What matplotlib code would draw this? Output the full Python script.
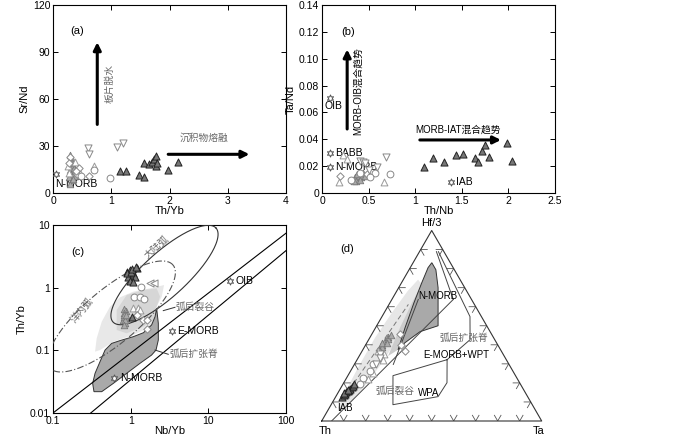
import numpy as np
import matplotlib
matplotlib.use('Agg')
import matplotlib.pyplot as plt

plt.rcParams['font.family'] = ['Liberation Sans', 'Noto Sans CJK SC']
plt.rcParams['font.size'] = 7.5

# ---------------- data: panel (a) Th/Yb vs Sr/Nd ----------------
a_dark_x = [1.15, 1.25, 1.47, 1.57, 1.57, 1.65, 1.70, 1.73, 1.77, 1.77, 1.78, 1.97, 2.15]
a_dark_y = [14, 14, 11.5, 10, 19, 18.5, 20, 22, 23.5, 17, 19, 15, 20]
a_gray_x = [0.30, 0.32, 0.33, 0.34, 0.30, 0.32, 0.35, 0.28, 0.33, 0.36, 0.38, 0.30, 0.34, 0.31, 0.37]
a_gray_y = [24, 22, 20, 18, 15, 13, 12, 10, 8, 16, 11, 6, 9, 19, 14]
a_inv_x = [0.60, 0.61, 1.10, 1.21]
a_inv_y = [29, 25, 29.5, 32]
a_circ_x = [0.48, 0.71, 0.98]
a_circ_y = [11, 15, 9.3]
a_diam_x = [0.30, 0.27, 0.42, 0.45, 0.61, 0.40]
a_diam_y = [23, 19, 12, 16, 11, 14]
a_tri_x = [0.25, 0.38, 0.28, 0.47, 0.70]
a_tri_y = [17, 20, 13, 13, 17]
a_ref = {'N-MORB': (0.05, 12)}

# ---------------- data: panel (b) Th/Nb vs Ta/Nd ----------------
b_dark_x = [1.09, 1.19, 1.31, 1.44, 1.51, 1.64, 1.67, 1.72, 1.75, 1.79, 1.99, 2.04]
b_dark_y = [0.019, 0.026, 0.023, 0.028, 0.029, 0.026, 0.023, 0.031, 0.036, 0.027, 0.037, 0.024]
b_gray_x = [0.33, 0.35, 0.37, 0.40, 0.42, 0.38, 0.44, 0.36, 0.41, 0.46, 0.34]
b_gray_y = [0.010, 0.012, 0.011, 0.013, 0.012, 0.014, 0.015, 0.009, 0.010, 0.013, 0.009]
b_inv_x = [0.41, 0.44, 0.46, 0.59, 0.69, 0.50]
b_inv_y = [0.024, 0.023, 0.022, 0.019, 0.027, 0.017]
b_circ_x = [0.31, 0.41, 0.57, 0.73, 0.52]
b_circ_y = [0.0097, 0.015, 0.015, 0.014, 0.012]
b_diam_x = [0.19, 0.48]
b_diam_y = [0.013, 0.014]
b_tri_x = [0.18, 0.67, 0.23, 0.27]
b_tri_y = [0.0084, 0.0084, 0.028, 0.025]
b_ref = {'OIB': (0.09, 0.071), 'BABB': (0.086, 0.030),
         'N-MORB': (0.086, 0.019), 'IAB': (1.38, 0.008)}

# ---------------- data: panel (c) Nb/Yb vs Th/Yb ----------------
c_dark_x = [0.89, 0.98, 1.03, 1.08, 1.13, 0.93, 1.19, 0.98, 1.08, 0.90, 1.00, 1.05, 1.17, 1.03]
c_dark_y = [1.80, 1.91, 1.59, 1.69, 1.50, 1.50, 2.03, 1.29, 1.25, 1.69, 1.80, 2.00, 2.15, 0.34]
c_gray_x = [0.80, 0.82, 0.84, 0.86, 0.83, 0.85, 0.81, 0.87, 0.84, 0.82, 0.86, 0.83]
c_gray_y = [0.30, 0.34, 0.38, 0.42, 0.45, 0.27, 0.40, 0.33, 0.31, 0.36, 0.37, 0.25]
c_inv_x = [1.77, 1.99]
c_inv_y = [1.20, 1.20]
c_circ_x = [1.36, 1.10, 1.30, 1.50]
c_circ_y = [1.01, 0.70, 0.72, 0.66]
c_diam_x = [1.19, 1.61, 1.44, 1.61]
c_diam_y = [0.366, 0.22, 0.30, 0.305]
c_tri_x = [1.08, 1.25, 1.32]
c_tri_y = [0.47, 0.47, 0.44]
c_ref = {'OIB': (19, 1.28), 'E-MORB': (3.37, 0.206), 'N-MORB': (0.617, 0.0357)}

# mantle array boundaries (end points)
c_line1 = ([0.1, 100], [0.01, 7.4])
c_line2 = ([0.306, 100], [0.01, 3.9])
# ellipses in log10 space: centre, half-axis vectors
arc_cont = ((0.4355, 0.202), (0.663, 0.750), (-0.191, 0.259))
arc_ocean = ((-0.247, -0.460), (0.792, 0.822), (-0.223, 0.330))
# back-arc rift (light) and spreading ridge (dark) fields
rift_x = [0.348, 0.365, 0.424, 0.542, 0.730, 1.08, 1.77, 2.69, 2.51, 2.16, 2.06, 1.86, 1.08, 0.598, 0.403]
rift_y = [0.0953, 0.155, 0.286, 0.498, 0.701, 0.863, 0.975, 1.10, 0.718, 0.498, 0.344, 0.239, 0.176, 0.137, 0.101]
rift2_x = [0.661, 0.889, 1.46, 2.16, 2.39, 2.16, 1.96, 1.46, 0.889, 0.661]
rift2_y = [0.441, 0.764, 0.918, 0.975, 0.718, 0.498, 0.305, 0.239, 0.187, 0.211]
ridge_x = [0.337, 0.324, 0.348, 0.403, 0.468, 0.569, 0.730, 1.08, 1.46, 1.86, 2.06, 2.16,
           2.27, 2.27, 2.12, 1.86, 1.32, 0.889, 0.598, 0.424]
ridge_y = [0.0219, 0.0297, 0.0430, 0.0659, 0.101, 0.129, 0.143, 0.165, 0.191, 0.254, 0.344, 0.468,
           0.270, 0.146, 0.101, 0.0841, 0.0621, 0.0430, 0.0297, 0.0219]

# ---------------- data: panel (d) Th - Hf/3 - Ta (Hf/3, Ta fractions) ----------------
d_dark_hf = [0.125, 0.135, 0.140, 0.150, 0.155, 0.162, 0.170, 0.178, 0.185, 0.192, 0.145, 0.165]
d_dark_ta = [0.030, 0.032, 0.035, 0.037, 0.040, 0.042, 0.045, 0.047, 0.050, 0.053, 0.030, 0.038]
d_gray_hf = [0.38, 0.40, 0.42, 0.44, 0.39, 0.41, 0.43, 0.37, 0.45, 0.41]
d_gray_ta = [0.072, 0.075, 0.078, 0.082, 0.080, 0.070, 0.085, 0.078, 0.088, 0.090]
d_inv_hf = [0.35, 0.33, 0.30]
d_inv_ta = [0.09, 0.10, 0.095]
d_circ_hf = [0.227, 0.262, 0.192, 0.297]
d_circ_ta = [0.076, 0.088, 0.078, 0.086]
d_diam_hf = [0.455, 0.367, 0.40]
d_diam_ta = [0.128, 0.195, 0.16]
d_tri_hf = [0.367, 0.35, 0.32, 0.25, 0.22]
d_tri_ta = [0.073, 0.11, 0.12, 0.11, 0.10]

d_lines = [
    ([0.0, 0.638], [0.045, 0.279]),
    ([0.638, 0.889], [0.279, 0.077]),
    ([0.889, 0.548, 0.427, 0.322], [0.086, 0.400, 0.461, 0.409]),
    ([0.322, 0.238, 0.0856, 0.128, 0.201, 0.322], [0.409, 0.205, 0.281, 0.465, 0.469, 0.409]),
    ([0.638, 0.297], [0.120, 0.177]),
]
d_dash = ([0.131, 0.612], [0.040, 0.088])
d_light_hf = [0.070, 0.149, 0.280, 0.437, 0.569, 0.684, 0.742, 0.717, 0.648, 0.542, 0.411, 0.290, 0.185, 0.096, 0.049]
d_light_ta = [0.039, 0.031, 0.025, 0.024, 0.035, 0.050, 0.067, 0.097, 0.109, 0.121, 0.128, 0.120, 0.104, 0.081, 0.059]
d_mid_hf = [0.341, 0.490, 0.621, 0.700, 0.411, 0.374]
d_mid_ta = [0.131, 0.111, 0.100, 0.097, 0.173, 0.160]
d_ridge_hf = [0.831, 0.794, 0.700, 0.500, 0.469, 0.411, 0.374, 0.490, 0.621, 0.726, 0.805]
d_ridge_ta = [0.085, 0.122, 0.179, 0.279, 0.2125, 0.173, 0.160, 0.134, 0.109, 0.092, 0.081]
d_labels = [('N-MORB', 0.658, 0.109, 'k'), ('弧后扩张脊', 0.437, 0.319, '#666666'),
            ('E-MORB+WPT', 0.349, 0.286, 'k'), ('弧后裂谷', 0.159, 0.163, '#666666'),
            ('WPA', 0.149, 0.363, 'k'), ('IAB', 0.070, 0.035, 'k')]

# ---------------- styles ----------------
sty_dark = dict(marker='^', s=26, facecolor='#777777', edgecolor='#222222', lw=0.7, zorder=5)
sty_gray = dict(marker='^', s=22, facecolor='#aaaaaa', edgecolor='#777777', lw=0.6, zorder=4)
sty_inv = dict(marker='v', s=26, facecolor='white', edgecolor='#888888', lw=0.7, zorder=4)
sty_circ = dict(marker='o', s=24, facecolor='white', edgecolor='#888888', lw=0.7, zorder=4)
sty_diam = dict(marker='D', s=14, facecolor='white', edgecolor='#888888', lw=0.7, zorder=4)
sty_tri = dict(marker='^', s=24, facecolor='white', edgecolor='#999999', lw=0.7, zorder=4)
sty_star = dict(marker=(6, 1, 0), s=26, facecolor='white', edgecolor='#555555', lw=0.7, zorder=6)
cn_color = '#666666'


def style_axes(ax):
    ax.tick_params(direction='in', top=True, right=True, length=3.5, width=0.7,
                   labelsize=7.5, pad=2)
    for sp in ax.spines.values():
        sp.set_linewidth(0.8)


def ellipse(params):
    (cx, cy), (ux, uy), (vx, vy) = params
    t = np.linspace(0, 2 * np.pi, 200)
    lx = cx + ux * np.cos(t) + vx * np.sin(t)
    ly = cy + uy * np.cos(t) + vy * np.sin(t)
    return 10 ** lx, 10 ** ly


def tern(hf, ta):
    hf = np.asarray(hf, dtype=float)
    ta = np.asarray(ta, dtype=float)
    return ta + hf / 2, hf * np.sqrt(3) / 2


fig = plt.figure(figsize=(7, 4.37), dpi=100)

# ---------------- (a) ----------------
ax = fig.add_axes([53 / 700, 1 - 193 / 437, 233 / 700, 188 / 437])
ax.scatter(a_gray_x, a_gray_y, **sty_gray)
ax.scatter(a_tri_x, a_tri_y, **sty_tri)
ax.scatter(a_diam_x, a_diam_y, **sty_diam)
ax.scatter(a_circ_x, a_circ_y, **sty_circ)
ax.scatter(a_inv_x, a_inv_y, **sty_inv)
ax.scatter(a_dark_x, a_dark_y, **sty_dark)
for name, (x, y) in a_ref.items():
    ax.scatter([x], [y], **sty_star)
    ax.text(x - 0.02, y - 6, name, ha='left', va='center', fontsize=7.5)
ax.annotate('', xy=(0.76, 98), xytext=(0.76, 42),
            arrowprops=dict(arrowstyle='-|>', lw=2.2, color='k', mutation_scale=11))
ax.text(0.98, 70, '板片脱水', rotation=90, ha='center', va='center', fontsize=7, color=cn_color)
ax.annotate('', xy=(3.42, 24.7), xytext=(1.93, 24.7),
            arrowprops=dict(arrowstyle='-|>', lw=2.2, color='k', mutation_scale=11))
ax.text(2.6, 35, '沉积物熔融', ha='center', va='center', fontsize=7, color=cn_color)
ax.text(0.41, 103.5, '(a)', ha='center', va='center', fontsize=8)
ax.set_xlim(0, 4)
ax.set_ylim(0, 120)
ax.set_xticks([0, 1, 2, 3, 4])
ax.set_yticks([0, 30, 60, 90, 120])
ax.set_xlabel('Th/Yb', fontsize=8, labelpad=0.5)
ax.set_ylabel('Sr/Nd', fontsize=8, labelpad=2)
style_axes(ax)

# ---------------- (b) ----------------
ax = fig.add_axes([322 / 700, 1 - 193 / 437, 233 / 700, 188 / 437])
ax.scatter(b_gray_x, b_gray_y, **sty_gray)
ax.scatter(b_tri_x, b_tri_y, **sty_tri)
ax.scatter(b_diam_x, b_diam_y, **sty_diam)
ax.scatter(b_circ_x, b_circ_y, **sty_circ)
ax.scatter(b_inv_x, b_inv_y, **sty_inv)
ax.scatter(b_dark_x, b_dark_y, **sty_dark)
for name, (x, y) in b_ref.items():
    ax.scatter([x], [y], **sty_star)
    if name == 'OIB':
        ax.text(x + 0.03, y - 0.0065, name, ha='center', va='center', fontsize=7.5)
    else:
        ax.text(x + 0.06, y, name, ha='left', va='center', fontsize=7.5)
ax.annotate('', xy=(0.27, 0.109), xytext=(0.27, 0.0456),
            arrowprops=dict(arrowstyle='-|>', lw=2.2, color='k', mutation_scale=11))
ax.text(0.39, 0.076, 'MORB-OIB混合趋势', rotation=90, ha='center', va='center', fontsize=7)
ax.annotate('', xy=(1.95, 0.0395), xytext=(1.02, 0.0395),
            arrowprops=dict(arrowstyle='-|>', lw=2.2, color='k', mutation_scale=11))
ax.text(1.0, 0.0475, 'MORB-IAT混合趋势', ha='left', va='center', fontsize=7)
ax.text(0.28, 0.12, '(b)', ha='center', va='center', fontsize=8)
ax.set_xlim(0, 2.5)
ax.set_ylim(0, 0.14)
ax.set_xticks([0, 0.5, 1, 1.5, 2, 2.5])
ax.set_xticklabels(['0', '0.5', '1', '1.5', '2', '2.5'])
ax.set_yticks(np.arange(0, 0.141, 0.02))
ax.set_yticklabels(['0'] + ['%.2f' % v for v in np.arange(0.02, 0.141, 0.02)])
ax.set_xlabel('Th/Nb', fontsize=8, labelpad=0.5)
ax.set_ylabel('Ta/Nd', fontsize=8, labelpad=2)
style_axes(ax)

# ---------------- (c) ----------------
ax = fig.add_axes([53 / 700, 1 - 413 / 437, 233 / 700, 188 / 437])
ax.set_xscale('log')
ax.set_yscale('log')
ax.fill(rift_x, rift_y, color='#e8e8e8', lw=0, zorder=1)
ax.fill(rift2_x, rift2_y, color='#d6d6d6', lw=0, zorder=1)
ax.fill(ridge_x, ridge_y, facecolor='#a9a9a9', edgecolor='#333333', lw=0.7, zorder=2)
ax.plot(*c_line1, color='k', lw=0.8, zorder=3)
ax.plot(*c_line2, color='k', lw=0.8, zorder=3)
ex, ey = ellipse(arc_cont)
ax.plot(ex, ey, color='#333333', lw=0.8, zorder=3)
ex, ey = ellipse(arc_ocean)
ax.plot(ex, ey, color='#555555', lw=0.8, ls=(0, (6, 2, 1, 2)), zorder=3)
ax.scatter(c_gray_x, c_gray_y, **sty_gray)
ax.scatter(c_tri_x, c_tri_y, **sty_tri)
ax.scatter(c_diam_x, c_diam_y, **sty_diam)
ax.scatter(c_circ_x, c_circ_y, **sty_circ)
ax.scatter(c_inv_x, c_inv_y, **dict(sty_inv, marker='<'))
ax.scatter(c_dark_x, c_dark_y, **sty_dark)
for name, (x, y) in c_ref.items():
    ax.scatter([x], [y], **sty_star)
    ax.text(x * 1.18, y, name, ha='left', va='center', fontsize=7.5)
ax.text(2.16, 4.5, '大陆弧', rotation=42, ha='center', va='center', fontsize=7, color=cn_color)
ax.text(0.234, 0.44, '洋内弧', rotation=50, ha='center', va='center', fontsize=7, color=cn_color)
ax.plot([2.63, 3.72], [0.43, 0.486], color='#333333', lw=0.7, zorder=3)
ax.text(3.8, 0.486, '弧后裂谷', ha='left', va='center', fontsize=7, color=cn_color)
ax.plot([2.06, 3.05], [0.101, 0.0865], color='#333333', lw=0.7, zorder=3)
ax.text(3.15, 0.0865, '弧后扩张脊', ha='left', va='center', fontsize=7, color=cn_color)
ax.text(0.21, 3.75, '(c)', ha='center', va='center', fontsize=8)
ax.set_xlim(0.1, 100)
ax.set_ylim(0.01, 10)
ax.set_xticks([0.1, 1, 10, 100])
ax.set_xticklabels(['0.1', '1', '10', '100'])
ax.set_yticks([0.01, 0.1, 1, 10])
ax.set_yticklabels(['0.01', '0.1', '1', '10'])
ax.minorticks_off()
ax.set_xlabel('Nb/Yb', fontsize=8, labelpad=0)
ax.set_ylabel('Th/Yb', fontsize=8, labelpad=2)
style_axes(ax)

# ---------------- (d) ternary ----------------
h = np.sqrt(3) / 2
ax = fig.add_axes([321.7 / 700, (437 - 421) / 437, 220 / 700, 190.5 / 437])
ax.set_xlim(0, 1)
ax.set_ylim(0, h)
ax.axis('off')
ax.plot([0, 1, 0.5, 0], [0, 0, h, 0], color='#333333', lw=0.8, clip_on=False, zorder=3)

tk = 0.03
for i in range(1, 10):
    f = i / 10
    # bottom edge
    ax.plot([f - tk / 2, f, f + tk / 2], [tk * h, 0, tk * h], color='#555555', lw=0.6)
    # left edge
    px, py = f / 2, f * h
    ax.plot([px + tk, px, px + tk / 2], [py, py, py - tk * h], color='#555555', lw=0.6)
    # right edge
    px, py = 1 - f / 2, f * h
    ax.plot([px - tk, px, px - tk / 2], [py, py, py - tk * h], color='#555555', lw=0.6)

x, y = tern(d_light_hf, d_light_ta)
ax.fill(x, y, color='#e6e6e6', lw=0, zorder=1)
x, y = tern(d_mid_hf, d_mid_ta)
ax.fill(x, y, color='#cccccc', lw=0, zorder=1)
x, y = tern(d_ridge_hf, d_ridge_ta)
ax.fill(x, y, facecolor='#a9a9a9', edgecolor='#333333', lw=0.7, zorder=2)
for hf, ta in d_lines:
    x, y = tern(hf, ta)
    ax.plot(x, y, color='#444444', lw=0.7, zorder=3)
x, y = tern(*d_dash)
ax.plot(x, y, color='#777777', lw=0.7, ls=(0, (5, 3)), zorder=3)

for hf, ta, sty in [(d_gray_hf, d_gray_ta, sty_gray), (d_tri_hf, d_tri_ta, sty_tri),
                    (d_diam_hf, d_diam_ta, sty_diam), (d_circ_hf, d_circ_ta, sty_circ),
                    (d_inv_hf, d_inv_ta, sty_inv), (d_dark_hf, d_dark_ta, sty_dark)]:
    x, y = tern(hf, ta)
    ax.scatter(x, y, **sty)

for text, hf, ta, col in d_labels:
    x, y = tern(hf, ta)
    ax.text(x, y, text, ha='left', va='center', fontsize=7, color=col, zorder=6)

ax.text(0.5, h + 0.036, 'Hf/3', ha='center', va='center', fontsize=8, clip_on=False)
ax.text(0.015, -0.045, 'Th', ha='center', va='center', fontsize=8, clip_on=False)
ax.text(0.985, -0.045, 'Ta', ha='center', va='center', fontsize=8, clip_on=False)
ax.text(0.114, 0.78, '(d)', ha='center', va='center', fontsize=8)

fig.savefig('out.png', dpi=100)
